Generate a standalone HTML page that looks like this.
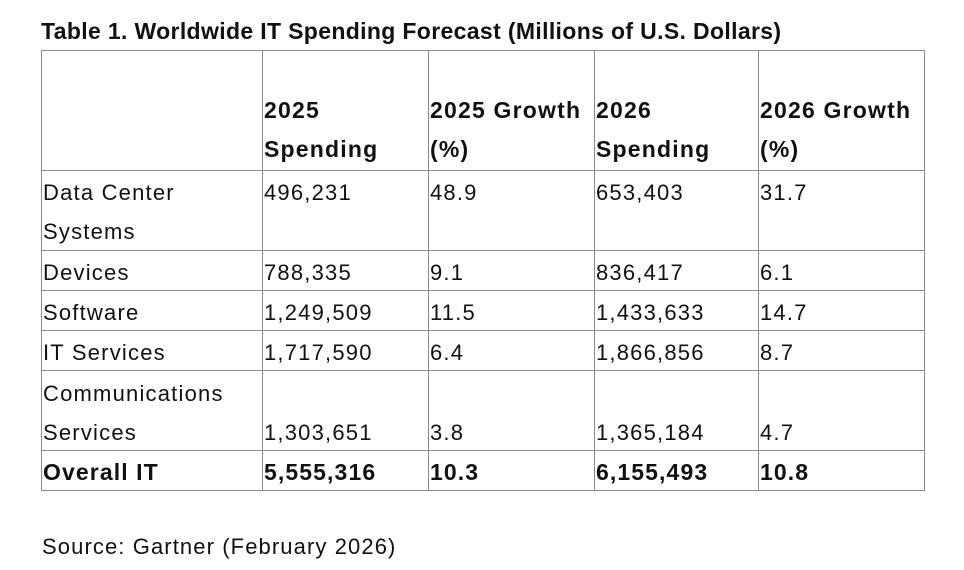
<!DOCTYPE html>
<html><head><meta charset="utf-8"><style>
body{margin:0;width:964px;height:570px;background:#fff;font-family:"Liberation Sans",sans-serif;color:#111;position:relative;overflow:hidden}
#title{position:absolute;left:41px;top:18px;font-weight:bold;font-size:23px;letter-spacing:0.35px;white-space:nowrap}
table{position:absolute;left:41px;top:50px;border-collapse:collapse;font-size:22px;letter-spacing:1.2px}
td{border:1px solid #8a8a8a;padding:0 0 0 1px;line-height:39px;vertical-align:top;white-space:nowrap}
td span{position:relative;top:2px}
thead td span{top:-1px}
thead td{font-weight:bold;vertical-align:bottom;letter-spacing:1.2px;font-size:23px}
tr.tot td{font-weight:bold;letter-spacing:1.1px;font-size:23px}
tr.bot td{vertical-align:bottom}
#src{position:absolute;left:42px;top:534px;font-size:22px;letter-spacing:1.1px}
</style></head><body>
<div id="title">Table 1. Worldwide IT Spending Forecast (Millions of U.S. Dollars)</div>
<table>
<colgroup><col style="width:221px"><col style="width:166px"><col style="width:166px"><col style="width:164px"><col style="width:166px"></colgroup>
<thead><tr style="height:120px">
<td></td><td><span>2025<br>Spending</span></td><td><span>2025 Growth<br>(%)</span></td><td><span>2026<br>Spending</span></td><td><span>2026 Growth<br>(%)</span></td></tr></thead>
<tbody>
<tr style="height:80px"><td><span>Data Center<br>Systems</span></td><td><span>496,231</span></td><td><span>48.9</span></td><td><span>653,403</span></td><td><span>31.7</span></td></tr>
<tr style="height:40px"><td><span>Devices</span></td><td><span>788,335</span></td><td><span>9.1</span></td><td><span>836,417</span></td><td><span>6.1</span></td></tr>
<tr style="height:40px"><td><span>Software</span></td><td><span>1,249,509</span></td><td><span>11.5</span></td><td><span>1,433,633</span></td><td><span>14.7</span></td></tr>
<tr style="height:40px"><td><span>IT Services</span></td><td><span>1,717,590</span></td><td><span>6.4</span></td><td><span>1,866,856</span></td><td><span>8.7</span></td></tr>
<tr class="bot" style="height:80px"><td><span>Communications<br>Services</span></td><td><span>1,303,651</span></td><td><span>3.8</span></td><td><span>1,365,184</span></td><td><span>4.7</span></td></tr>
<tr class="tot" style="height:40px"><td><span>Overall IT</span></td><td><span>5,555,316</span></td><td><span>10.3</span></td><td><span>6,155,493</span></td><td><span>10.8</span></td></tr>
</tbody></table>
<div id="src">Source: Gartner (February 2026)</div>
</body></html>
